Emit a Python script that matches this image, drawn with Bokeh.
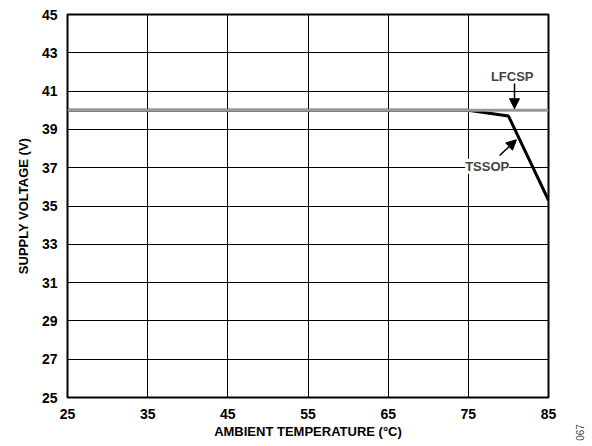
from bokeh.plotting import figure
from bokeh.models import Label, Arrow, NormalHead, FixedTicker, Range1d
from bokeh.layouts import row
from bokeh.embed import file_html
from bokeh.resources import INLINE
import math

# data
temp_lfcsp = [25, 85]
volt_lfcsp = [40, 40]
temp_tssop = [25, 75, 80, 85]
volt_tssop = [40, 40, 39.7, 35.3]
x_ticks = [25, 35, 45, 55, 65, 75, 85]
y_ticks = [25, 27, 29, 31, 33, 35, 37, 39, 41, 43, 45]

FONT = "Liberation Sans"

p = figure(output_backend="svg", toolbar_location=None,
           frame_width=481, frame_height=383,
           x_range=Range1d(25, 85), y_range=Range1d(25, 45),
           min_border_left=67, min_border_right=14,
           min_border_top=14, min_border_bottom=46,
           frame_align=False)
p.background_fill_color = "white"
p.border_fill_color = "white"
p.outline_line_color = "black"
p.outline_line_width = 2

for ax in (p.xaxis[0], p.yaxis[0]):
    ax.axis_line_color = None
    ax.major_tick_line_color = None
    ax.minor_tick_line_color = None
    ax.major_label_text_font = FONT
    ax.major_label_text_font_style = "bold"
    ax.major_label_text_font_size = "14px"
    ax.major_label_text_color = "black"
    ax.axis_label_text_font = FONT
    ax.axis_label_text_font_style = "bold"
    ax.axis_label_text_font_size = "13px"
    ax.axis_label_text_color = "black"

p.xaxis.ticker = FixedTicker(ticks=x_ticks)
p.yaxis.ticker = FixedTicker(ticks=y_ticks)
p.xaxis.axis_label = "AMBIENT TEMPERATURE (°C)"
p.yaxis.axis_label = "SUPPLY VOLTAGE (V)"
p.xaxis.major_label_standoff = 5
p.yaxis.major_label_standoff = 4
p.xaxis.axis_label_standoff = 2
p.yaxis.axis_label_standoff = 8

for g in (p.xgrid[0], p.ygrid[0]):
    g.grid_line_color = "black"
    g.grid_line_width = 1
    g.grid_line_alpha = 1.0
p.xgrid.ticker = FixedTicker(ticks=x_ticks)
p.ygrid.ticker = FixedTicker(ticks=y_ticks)

p.line(temp_tssop, volt_tssop, line_color="black", line_width=3)
p.line(temp_lfcsp, volt_lfcsp, line_color="#999999", line_width=3)

# annotations
p.add_layout(Label(x=80.47, y=41.76, text="LFCSP", text_font=FONT,
                   text_font_style="bold", text_font_size="13px",
                   text_align="center", text_baseline="middle"))
p.add_layout(Arrow(x_start=80.76, y_start=41.4, x_end=80.76, y_end=40.08,
                   line_color="black", line_width=1.5,
                   end=NormalHead(size=10, fill_color="black", line_color="black")))

p.add_layout(Label(x=77.35, y=37.08, text="TSSOP", text_font=FONT,
                   text_font_style="bold", text_font_size="13px",
                   text_align="center", text_baseline="middle",
                   background_fill_color="white"))
p.add_layout(Arrow(x_start=78.9, y_start=37.64, x_end=81.0, y_end=38.46,
                   line_color="black", line_width=1.5,
                   end=NormalHead(size=10, fill_color="black", line_color="black")))

# side strip holding the rotated figure code
p2 = figure(output_backend="svg", toolbar_location=None,
            width=30, height=443,
            x_range=Range1d(0, 30), y_range=Range1d(443, 0),
            x_axis_location=None, y_axis_location=None,
            min_border=0, frame_align=False)
p2.grid.visible = False
p2.outline_line_color = None
p2.background_fill_color = "white"
p2.border_fill_color = "white"
p2.add_layout(Label(x=17, y=432, text="067", text_font=FONT,
                    text_font_size="10px", angle=math.pi / 2,
                    text_align="center", text_baseline="middle"))

layout = row(p, p2, spacing=0)
open("out.html", "w").write(file_html(layout, INLINE))
